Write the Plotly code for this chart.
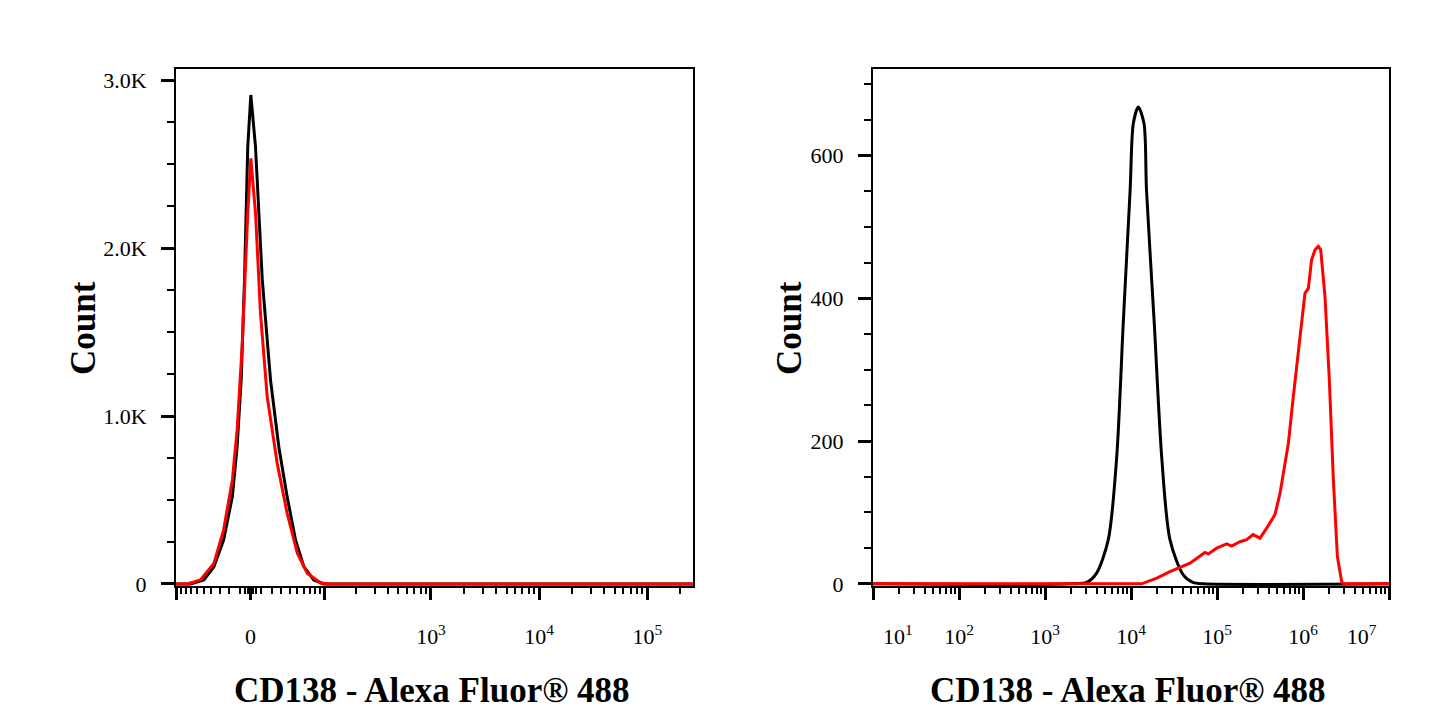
import plotly.graph_objects as go
import numpy as np

# left histogram: biexponential-like axis (values are fluorescence)
left_black_x = [-100, -71, -50, -37, -26, -17, -12.4, -8.6, -5.5, -2.5, 0.3,
                4.6, 10.9, 18.9, 27.5, 37, 47.8, 60, 77, 98, 262144]
left_black_y = [0, 0, 24, 103, 262, 520, 817, 1214, 1810, 2603, 2911,
                2603, 1810, 1214, 817, 520, 262, 103, 24, 0, 0]
left_red_x = [-100, -77, -55, -37, -26, -17, -12.4, -7.7, -2.5, 0.3,
              4.6, 9.2, 15.6, 25.8, 37, 50.3, 65.4, 91, 110, 262144]
left_red_y = [0, 0, 24, 123, 321, 619, 917, 1413, 2208, 2534,
              2208, 1613, 1115, 718, 421, 183, 64, 6, 0, 0]

# right histogram: log axis
right_black_x = [10, 2000, 3055, 3981, 5445, 6823, 8128, 9772, 10640, 12162,
                 14160, 15136, 18621, 22751, 28379, 40272, 52481, 70000, 1e7]
right_black_y = [0, 0, 2, 15, 62, 178, 366, 552, 645, 668,
                 645, 552, 366, 178, 62, 13, 2, 0, 0]
right_red_x = [10, 13300, 19950, 28380, 48530, 72440, 79430, 99080, 129700,
               147900, 184900, 221300, 263000, 316200, 378400, 472100, 540800,
               676100, 770900, 922600, 1054000, 1153000, 1259000, 1380000,
               1507000, 1607000, 1803000, 2023000, 2254000, 2512000, 2818000,
               2951000, 1e7]
right_red_y = [0, 0, 8, 17, 29, 44, 42, 50, 56,
               53, 59, 62, 69, 64, 78, 97, 127,
               197, 262, 342, 407, 414, 454, 468,
               473, 468, 402, 286, 146, 38, 3,
               0, 0]

left_ticks = [-100, 0, 100, 1000, 10000, 100000]
left_ticktext = ["", "0", "", "10<sup>3</sup>", "10<sup>4</sup>", "10<sup>5</sup>"]
left_minor = ([-90, -80, -70, -60, -50, -40, -30, -20, -10, -5, -2, 2, 5,
               10, 20, 30, 40, 50, 60, 70, 80, 90]
              + [m * 10 ** e for e in (2, 3, 4) for m in range(2, 10)]
              + [200000])

right_ticks = [10, 100, 1000, 10000, 100000, 1000000, 10000000]
right_ticktext = ["\u00a0" * 9 + "10<sup>1</sup>", "10<sup>2</sup>", "10<sup>3</sup>",
                  "10<sup>4</sup>", "10<sup>5</sup>", "10<sup>6</sup>",
                  "10<sup>7</sup>" + "\u00a0" * 10]
right_minor = [m * 10 ** e for e in range(1, 7) for m in range(2, 10)]

C = 43.0


def biex(v):
    # arcsinh display transform, roughly what FlowJo shows
    return np.arcsinh(np.asarray(v, dtype=float) / C)


# page body has an 8px margin, so shift pixel positions by it
W, H, OFF = 1445, 723, 8


def px(x):
    return (x - OFF) / W


def py(y):
    return 1 - (y - OFF) / H


FONT = "Liberation Serif"
LW = 3

fig = go.Figure()
fig.add_trace(go.Scatter(x=biex(left_black_x), y=left_black_y, mode="lines",
                         line=dict(color="black", width=LW), xaxis="x", yaxis="y"))
fig.add_trace(go.Scatter(x=biex(left_red_x), y=left_red_y, mode="lines",
                         line=dict(color="#ff0000", width=LW), xaxis="x", yaxis="y"))
fig.add_trace(go.Scatter(x=right_black_x, y=right_black_y, mode="lines",
                         line=dict(color="black", width=LW, shape="spline", smoothing=0.8),
                         xaxis="x2", yaxis="y2"))
fig.add_trace(go.Scatter(x=right_red_x, y=right_red_y, mode="lines",
                         line=dict(color="#ff0000", width=LW), xaxis="x2", yaxis="y2"))

axis_common = dict(showline=True, linecolor="black", linewidth=2, mirror=True,
                   showgrid=False, zeroline=False, ticks="outside",
                   tickcolor="black", layer="below traces", automargin=False,
                   tickfont=dict(family=FONT, size=22, color="black"))

ydom = [py(586), py(69.3)]

fig.update_layout(
    template="none",
    width=W, height=H,
    margin=dict(l=0, r=0, t=0, b=0),
    plot_bgcolor="white", paper_bgcolor="white",
    showlegend=False,
    xaxis=dict(axis_common, domain=[px(176), px(693)],
               range=[-1.585, 9.415], tickmode="array",
               tickvals=biex(left_ticks), ticktext=left_ticktext,
               ticklen=12, tickwidth=2.5, ticklabelstandoff=18,
               minor=dict(tickmode="array", tickvals=biex(left_minor),
                          ticks="outside", ticklen=6, tickwidth=2,
                          tickcolor="black")),
    yaxis=dict(axis_common, domain=ydom, range=[-12, 3064],
               tickmode="array", tickvals=[0, 1000, 2000, 3000],
               ticktext=["0", "1.0K", "2.0K", "3.0K"],
               ticklen=13, tickwidth=3, ticklabelstandoff=10,
               minor=dict(tickmode="array", tickvals=[250, 500, 750, 1250, 1500, 1750, 2250, 2500, 2750],
                          ticks="outside", ticklen=7, tickwidth=2, tickcolor="black")),
    xaxis2=dict(axis_common, domain=[px(873), px(1389)], anchor="y2",
                type="log", range=[1, 7], tickmode="array",
                tickvals=right_ticks, ticktext=right_ticktext,
                ticklen=12, tickwidth=2.5, ticklabelstandoff=18,
                minor=dict(tickmode="array", tickvals=right_minor,
                           ticks="outside", ticklen=6, tickwidth=2,
                           tickcolor="black")),
    yaxis2=dict(axis_common, domain=ydom, anchor="x2", range=[-3, 721],
                tickmode="array", tickvals=[0, 200, 400, 600],
                ticktext=["0", "200", "400", "600"],
                ticklen=13, tickwidth=3, ticklabelstandoff=10,
                minor=dict(tickmode="array",
                           tickvals=[50, 100, 150, 250, 300, 350, 450, 500, 550, 650, 700],
                           ticks="outside", ticklen=7, tickwidth=2, tickcolor="black")),
)

title_font = dict(family=FONT, size=35, color="black")
for xc, xt in [(83, 432), (789, 1128)]:
    fig.add_annotation(text="<b>Count</b>", x=px(xc), y=py(328),
                       xref="paper", yref="paper", showarrow=False,
                       textangle=-90, font=title_font,
                       xanchor="center", yanchor="middle")
    fig.add_annotation(text="<b>CD138 - Alexa Fluor® 488</b>", x=px(xt),
                       y=py(690), xref="paper", yref="paper",
                       showarrow=False, font=title_font,
                       xanchor="center", yanchor="middle")

fig.write_html("out.html")
